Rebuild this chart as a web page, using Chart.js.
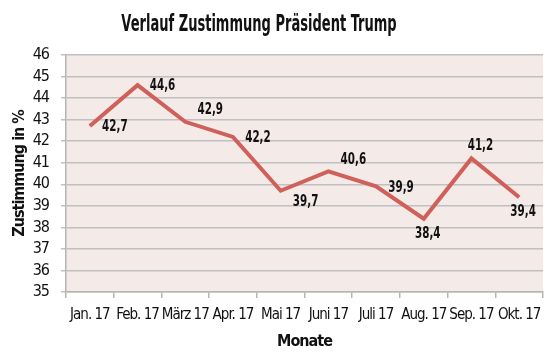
<!DOCTYPE html>
<html>
<head>
<meta charset="utf-8">
<script src="https://cdn.jsdelivr.net/npm/chart.js@4/dist/chart.umd.min.js"></script>
<style>
  html, body { margin: 0; padding: 0; background: #fff; }
  #wrap { width: 559px; height: 358px; }
</style>
</head>
<body>
<div id="wrap"><canvas id="c"></canvas></div>
<script>
const months = ['Jan. 17', 'Feb. 17', 'März 17', 'Apr. 17', 'Mai 17', 'Juni 17', 'Juli 17', 'Aug. 17', 'Sep. 17', 'Okt. 17'];
const approval = [42.7, 44.6, 42.9, 42.2, 39.7, 40.6, 39.9, 38.4, 41.2, 39.4];
const yTicks = [35, 36, 37, 38, 39, 40, 41, 42, 43, 44, 45, 46];
const chartTitle = 'Verlauf Zustimmung Präsident Trump';
// where each value label sits relative to its point
const labelSide = ['r', 'r', 'ar', 'r', 'br', 'ar', 'r', 'b', 'a', 'b'];

const FONT = '"DejaVu Sans Condensed", "Liberation Sans Narrow", sans-serif';

// the original uses a very narrow font, squeeze the built-in text a bit
const narrowText = {
  id: 'narrowText',
  beforeUpdate(chart) { chart.ctx.letterSpacing = '-1px'; },
  beforeDraw(chart) { chart.ctx.letterSpacing = '-1px'; }
};

const plotBg = {
  id: 'plotBg',
  beforeDraw(chart) {
    const { ctx, chartArea: a } = chart;
    ctx.save();
    ctx.fillStyle = '#f4ebe9';
    ctx.fillRect(a.left, a.top, a.right - a.left, a.bottom - a.top);
    ctx.restore();
  }
};

function squeezedText(ctx, txt, x, y, sx) {
  ctx.save();
  ctx.translate(x, y);
  ctx.scale(sx, 1);
  ctx.fillText(txt, 0, 0);
  ctx.restore();
}

const titleAndLabels = {
  id: 'titleAndLabels',
  afterDatasetsDraw(chart) {
    const ctx = chart.ctx;
    const meta = chart.getDatasetMeta(0);
    const offs = { r: [25, 1], ar: [25, -12], br: [25, 11], a: [9, -13], b: [4, 15] };
    ctx.save();
    ctx.letterSpacing = '0px';
    ctx.fillStyle = '#111';
    ctx.textAlign = 'center';
    ctx.textBaseline = 'middle';
    ctx.font = 'bold 16px ' + FONT;
    meta.data.forEach((pt, i) => {
      const o = offs[labelSide[i]];
      squeezedText(ctx, approval[i].toFixed(1).replace('.', ','), pt.x + o[0], pt.y + o[1], 0.72);
    });
    ctx.font = 'bold 23px ' + FONT;
    squeezedText(ctx, chartTitle, 259, 25, 0.63);
    ctx.restore();
  }
};

new Chart(document.getElementById('c'), {
  type: 'line',
  data: {
    labels: months,
    datasets: [{
      data: approval,
      borderColor: '#d0605a',
      borderWidth: 4,
      pointRadius: 0,
      tension: 0,
      fill: false
    }]
  },
  options: {
    responsive: true,
    maintainAspectRatio: false,
    animation: false,
    layout: { padding: { left: 0, right: 16, top: 55, bottom: 0 } },
    plugins: {
      legend: { display: false },
      tooltip: { enabled: false },
      title: { display: false }
    },
    scales: {
      x: {
        offset: true,
        grid: { offset: true, drawOnChartArea: false, drawTicks: true, tickLength: 6, color: '#b5b5b5', lineWidth: 1.5 },
        border: { color: '#b5b5b5', width: 1.5 },
        ticks: { color: '#111', font: { family: FONT, size: 15 }, maxRotation: 0, autoSkip: false, padding: 8 },
        title: { display: true, text: 'Monate', color: '#111', font: { family: FONT, size: 16, weight: 'bold' }, padding: { top: 2, bottom: 7 } },
        afterFit(s) { s.height = 66; }
      },
      y: {
        min: 35,
        max: 46,
        afterBuildTicks(s) { s.ticks = yTicks.map(v => ({ value: v })); },
        grid: { color: '#c0c0c0', lineWidth: 1.5, tickLength: 5 },
        border: { color: '#b5b5b5', width: 1.5 },
        ticks: { color: '#111', font: { family: FONT, size: 16 }, padding: 12, autoSkip: false },
        title: { display: true, text: 'Zustimmung in %', color: '#111', font: { family: FONT, size: 16, weight: 'bold' }, padding: { top: 10, bottom: 4 } },
        afterFit(s) { s.width = 66; }
      }
    }
  },
  plugins: [narrowText, plotBg, titleAndLabels]
});
</script>
</body>
</html>
